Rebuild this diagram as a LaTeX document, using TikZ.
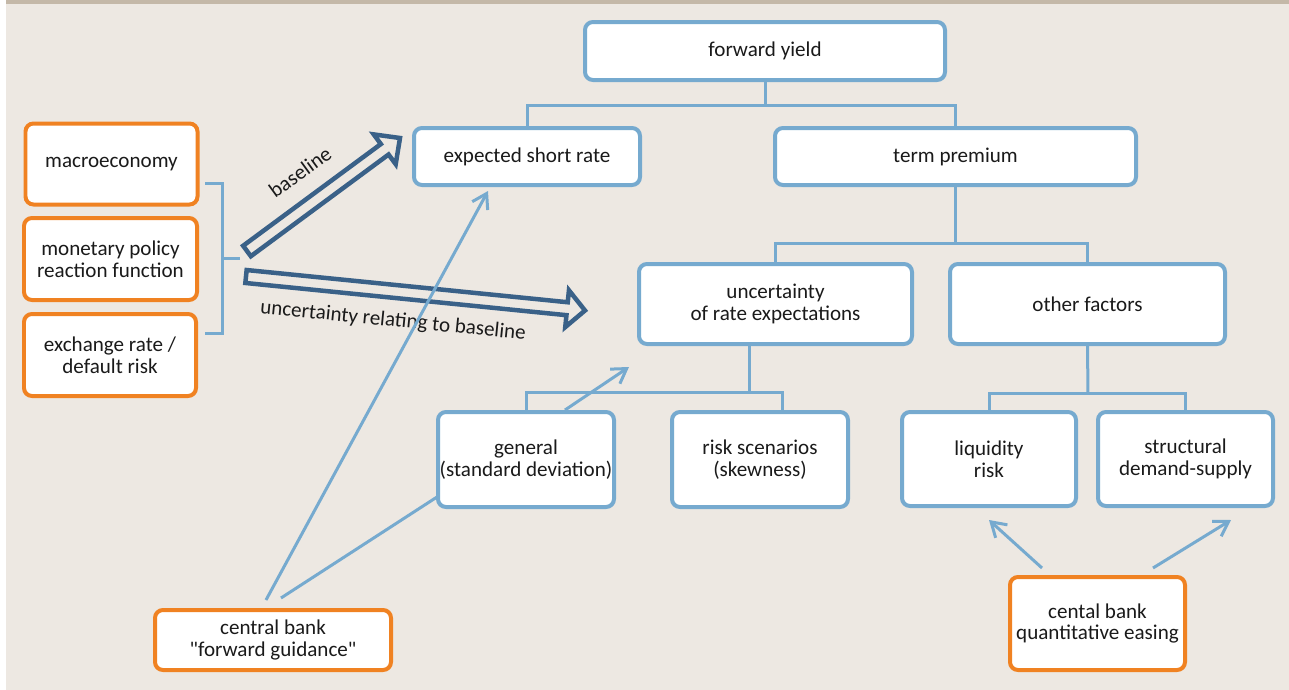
\documentclass[tikz,border=0pt]{standalone}
\usepackage{fontspec}
\setmainfont{Carlito}[Ligatures=TeXOff]
\usetikzlibrary{calc,arrows.meta}
\definecolor{bgc}{RGB}{237,232,226}
\definecolor{topc}{RGB}{196,184,168}
\definecolor{bluec}{RGB}{118,170,207}
\definecolor{orc}{RGB}{240,130,34}
\definecolor{darkc}{RGB}{58,97,136}
\definecolor{txtc}{RGB}{26,26,26}
\tikzset{
  box/.style={draw, fill=white, rounded corners=0.16cm, line width=0.08cm, align=center,
    inner sep=0pt, text=txtc, font=\fontsize{12}{12.5}\selectfont},
  bbox/.style={box, draw=bluec},
  obox/.style={box, draw=orc},
  sz/.style 2 args={minimum width=#1*0.02cm, minimum height=#2*0.02cm},
  tree/.style={draw=bluec, line width=0.06cm},
  thinarrow/.style={draw=bluec, line width=0.06cm, -{Straight Barb[length=8pt,width=10pt]}},
  hollow/.style={draw=darkc, line width=0.09cm, line join=miter},
  lbl/.style={text=txtc, font=\fontsize{12}{12.5}\selectfont, inner sep=0pt}
}
\begin{document}
\begin{tikzpicture}[x=0.02cm, y=-0.02cm]
\useasboundingbox (0,0) rectangle (1289,690);
\fill[white] (0,0) rectangle (1289,690);
\fill[bgc] (6,0) rectangle (1289,690);
\fill[topc] (6,0) rectangle (1289,4);

% blue boxes
\node[bbox, sz={360}{58}] (fy) at (765,51) {forward yield};
\node[bbox, sz={226}{57}] (esr) at (527,156.5) {expected short rate};
\node[bbox, sz={361}{57}] (tp) at (955.5,156.5) {term premium};
\node[bbox, sz={273}{80}] (unc) at (775.5,304) {uncertainty\\of rate expectations};
\node[bbox, sz={275}{80}] (oth) at (1087.5,304) {other factors};
\node[bbox, sz={176}{95}] (gen) at (526,459.5) {general\\(standard deviation)};
\node[bbox, sz={176}{95}] (risk) at (760,459.5) {risk scenarios\\(skewness)};
\node[bbox, sz={174}{94}] (liq) at (989,459) {liquidity\\risk};
\node[bbox, sz={175}{94}] (str) at (1185.5,459) {structural\\demand-supply};

% orange boxes
\node[obox, sz={172}{81}] (mac) at (111.5,164) {macroeconomy};
\node[obox, sz={173}{82}] (mon) at (110.5,259) {monetary policy\\reaction function};
\node[obox, sz={172}{82}] (exr) at (110,355) {exchange rate /\\default risk};
\node[obox, sz={236}{60}] (fg) at (273,640) {central bank\\"forward guidance"};
\node[obox, sz={175}{93}] (qe) at (1097.5,623.5) {cental bank\\quantitative easing};

% tree connectors
\coordinate (j1) at (765,105);
\draw[tree] (fy.south) -- (j1);
\draw[tree] (esr.north) |- (j1) -| (tp.north);
\coordinate (j2) at (955.5,243);
\draw[tree] (tp.south) -- (j2);
\draw[tree] (unc.north) |- (j2) -| (oth.north);
\coordinate (j3) at (749,392);
\draw[tree] (j3) -- (j3 |- unc.south);
\draw[tree] (gen.north) |- (j3) -| ($(risk.north)+(22,0)$);
\coordinate (j4) at (1088,393);
\draw[tree] (oth.south) -- (j4);
\draw[tree] (liq.north) |- (j4) -| (str.north);

% bracket
\coordinate (br1) at (205,183);
\coordinate (br2) at (205,333);
\coordinate (brm) at (222,258);
\coordinate (brt) at (240,258);
\draw[tree] (br1) -| (brm) |- (br2);
\draw[tree] (brm) -- (brt);

% hollow arrows
\coordinate (bt) at (247,251);
\coordinate (bh) at (400,138);
\coordinate (bb) at ($(bh)!0.38cm!(bt)$);
\draw[hollow] ($(bt)!0.13cm!90:(bh)$) -- ($(bb)!0.13cm!90:(bh)$) -- ($(bb)!0.37cm!90:(bh)$) -- (bh)
  -- ($(bb)!0.37cm!-90:(bh)$) -- ($(bb)!0.13cm!-90:(bh)$) -- ($(bt)!0.13cm!-90:(bh)$) -- cycle;
\coordinate (ut) at (246,276.5);
\coordinate (uh) at (585,310.5);
\coordinate (ub) at ($(uh)!0.36cm!(ut)$);
\draw[hollow] ($(ut)!0.13cm!90:(uh)$) -- ($(ub)!0.13cm!90:(uh)$) -- ($(ub)!0.37cm!90:(uh)$) -- (uh)
  -- ($(ub)!0.37cm!-90:(uh)$) -- ($(ub)!0.13cm!-90:(uh)$) -- ($(ut)!0.13cm!-90:(uh)$) -- cycle;
\node[lbl, rotate=36] (lb) at (300,172) {baseline};
\node[lbl, rotate=-5.7] (lu) at (393,321) {uncertainty relating to baseline};

% thin arrows and lines
\coordinate (fg1) at (266,600);
\coordinate (fg2) at (281,598);
\coordinate (esrin) at (488,191);
\coordinate (genin) at (437,497);
\draw[thinarrow] (fg1) -- (esrin);
\draw[tree] (fg2) -- (genin);
\coordinate (gen1) at (565,410);
\coordinate (gen2) at (629,367);
\draw[thinarrow] (gen1) -- (gen2);
\coordinate (qe1) at (1042,568);
\coordinate (qe2) at (1153,568);
\coordinate (liqin) at (989,520);
\coordinate (strin) at (1231,520);
\draw[thinarrow] (qe1) -- (liqin);
\draw[thinarrow] (qe2) -- (strin);
\end{tikzpicture}
\end{document}
